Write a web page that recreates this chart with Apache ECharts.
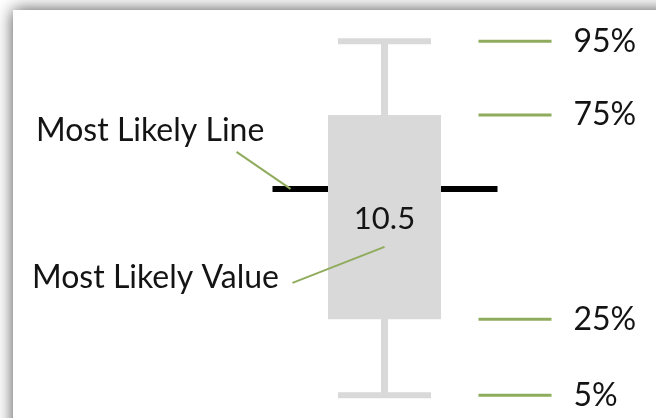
<!DOCTYPE html>
<html>
<head>
<meta charset="utf-8">
<script src="https://cdn.jsdelivr.net/npm/echarts@6/dist/echarts.min.js"></script>
<style>
html, body { margin: 0; padding: 0; background: #fff; }
#chart { width: 656px; height: 418px; }
</style>
</head>
<body>
<div id="chart"></div>
<script>
// box-and-whisker legend card
const categories = ['Estimate']
const percentileLabels = ['5%', '25%', '75%', '95%']
const percentileValues = [1.0, 4.5, 13.9, 17.3]
const mostLikelyValue = 10.5
const annotationLabels = ['Most Likely Line', 'Most Likely Value']

const GRAY = '#d9d9d9'
const GREEN = '#8fac5c'
const INK = '#141414'
const FONT = '"Lato", "Open Sans", sans-serif'

const chart = echarts.init(document.getElementById('chart'))

function renderBox(params, api) {
  const cat = api.value(0)
  const cx = api.coord([cat, 0])[0]
  const yOf = (v) => api.coord([cat, v])[1]
  const y5 = yOf(api.value(1))
  const y25 = yOf(api.value(2))
  const y75 = yOf(api.value(3))
  const y95 = yOf(api.value(4))
  const yMl = yOf(api.value(5))
  const boxW = 113
  const capW = 93
  const line = (x1, y1, x2, y2, stroke, lineWidth) => ({
    type: 'line',
    shape: { x1, y1, x2, y2 },
    style: { stroke, lineWidth, lineCap: 'butt' },
  })
  return {
    type: 'group',
    children: [
      line(cx - 112, yMl, cx + 113, yMl, '#000', 6),
      line(cx, y95, cx, y5, GRAY, 7),
      line(cx - capW / 2, y95, cx + capW / 2, y95, GRAY, 6),
      line(cx - capW / 2, y5, cx + capW / 2, y5, GRAY, 6),
      {
        type: 'rect',
        shape: { x: cx - boxW / 2, y: y75, width: boxW, height: y25 - y75 },
        style: { fill: GRAY },
      },
      {
        type: 'text',
        style: {
          text: String(api.value(5)), x: cx, y: yMl + 30,
          fill: INK, font: '31px ' + FONT, align: 'center', verticalAlign: 'middle',
        },
      },
      // leader lines + annotations
      line(cx - 148, yMl - 37, cx - 94, yMl, GREEN, 2),
      line(cx - 92, yMl + 94, cx, yMl + 58, GREEN, 2),
      {
        type: 'text',
        style: {
          text: annotationLabels[0], x: 36, y: yMl - 58,
          fill: INK, font: '32px ' + FONT, align: 'left', verticalAlign: 'middle',
        },
      },
      {
        type: 'text',
        style: {
          text: annotationLabels[1], x: 32, y: yMl + 89,
          fill: INK, font: '32px ' + FONT, align: 'left', verticalAlign: 'middle',
        },
      },
    ],
  }
}

function renderPercentile(params, api) {
  const cat = api.value(0)
  const pt = api.coord([cat, api.value(1)])
  return {
    type: 'group',
    children: [
      {
        type: 'line',
        shape: { x1: pt[0] + 94, y1: pt[1], x2: pt[0] + 167, y2: pt[1] },
        style: { stroke: GREEN, lineWidth: 3 },
      },
      {
        type: 'text',
        style: {
          text: percentileLabels[api.value(2)], x: pt[0] + 189, y: pt[1],
          fill: INK, font: '32px ' + FONT, align: 'left', verticalAlign: 'middle',
        },
      },
    ],
  }
}

chart.setOption({
  backgroundColor: '#fff',
  animation: false,
  graphic: [
    {
      type: 'rect',
      z: -10,
      shape: { x: 13, y: 10, width: 720, height: 500 },
      style: { fill: '#fff', shadowColor: 'rgba(0,0,0,0.7)', shadowBlur: 16 },
    },
  ],
  grid: { left: 314, right: 201, top: 26, bottom: 1 },
  xAxis: { type: 'category', data: categories, show: false },
  yAxis: { type: 'value', min: 0, max: 18, show: false },
  series: [
    {
      type: 'custom',
      renderItem: renderBox,
      data: [[0, ...percentileValues, mostLikelyValue]],
      z: 2,
    },
    {
      type: 'custom',
      renderItem: renderPercentile,
      data: percentileValues.map((v, i) => [0, v, i]),
      z: 3,
    },
  ],
})
</script>
</body>
</html>
